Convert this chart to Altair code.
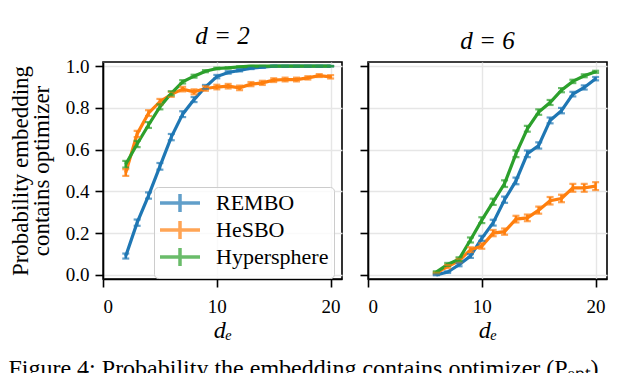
import altair as alt
import pandas as pd

methods = ["REMBO", "HeSBO", "Hypersphere"]
colors = ["#1f77b4", "#ff7f0e", "#2ca02c"]

# d = 2 panel
de_d2 = list(range(2, 21))
rembo_d2 = [0.09, 0.25, 0.38, 0.52, 0.66, 0.77, 0.84, 0.90, 0.95, 0.97, 0.98, 0.99, 0.995, 1.0, 1.0, 1.0, 1.0, 1.0, 1.0]
rembo_d2_err = [0.012, 0.015, 0.015, 0.016, 0.015, 0.014, 0.012, 0.010, 0.008, 0.006, 0.005, 0.004, 0.003, 0.002, 0.001, 0.001, 0.001, 0.001, 0.001]
hesbo_d2 = [0.49, 0.675, 0.775, 0.83, 0.865, 0.89, 0.877, 0.893, 0.90, 0.904, 0.896, 0.914, 0.92, 0.933, 0.936, 0.936, 0.944, 0.955, 0.949]
hesbo_d2_err = [0.016, 0.015, 0.014, 0.013, 0.012, 0.011, 0.012, 0.011, 0.011, 0.011, 0.011, 0.010, 0.010, 0.009, 0.009, 0.009, 0.008, 0.007, 0.008]
hyper_d2 = [0.53, 0.627, 0.718, 0.805, 0.87, 0.925, 0.952, 0.976, 0.989, 0.992, 0.997, 1.0, 1.0, 1.0, 1.0, 1.0, 1.0, 1.0, 1.0]
hyper_d2_err = [0.016, 0.015, 0.014, 0.012, 0.010, 0.008, 0.007, 0.005, 0.004, 0.003, 0.002, 0.001, 0.001, 0.001, 0.001, 0.001, 0.001, 0.001, 0.001]

# d = 6 panel
de_d6 = list(range(6, 21))
rembo_d6 = [0.0, 0.013, 0.048, 0.09, 0.175, 0.25, 0.36, 0.45, 0.58, 0.62, 0.74, 0.787, 0.866, 0.898, 0.94]
rembo_d6_err = [0.002, 0.004, 0.007, 0.009, 0.012, 0.014, 0.015, 0.016, 0.016, 0.015, 0.014, 0.013, 0.011, 0.010, 0.008]
hesbo_d6 = [0.008, 0.04, 0.068, 0.12, 0.138, 0.2, 0.207, 0.267, 0.273, 0.31, 0.355, 0.366, 0.417, 0.417, 0.425]
hesbo_d6_err = [0.004, 0.008, 0.010, 0.012, 0.013, 0.015, 0.015, 0.016, 0.016, 0.017, 0.018, 0.018, 0.019, 0.019, 0.019]
hyper_d6 = [0.013, 0.05, 0.075, 0.167, 0.262, 0.35, 0.437, 0.58, 0.70, 0.78, 0.826, 0.885, 0.927, 0.954, 0.973]
hyper_d6_err = [0.004, 0.007, 0.009, 0.012, 0.014, 0.015, 0.016, 0.016, 0.014, 0.013, 0.012, 0.010, 0.008, 0.007, 0.005]

x_ticks = [0, 10, 20]
y_ticks = [0.0, 0.2, 0.4, 0.6, 0.8, 1.0]

FONT = "Liberation Serif"


def make_df(de, series):
    rows = []
    for name, vals, errs in series:
        for x, v, e in zip(de, vals, errs):
            rows.append({"de": x, "p": v, "lo": v - e, "hi": v + e, "method": name})
    return pd.DataFrame(rows)


df2 = make_df(de_d2, [("REMBO", rembo_d2, rembo_d2_err), ("HeSBO", hesbo_d2, hesbo_d2_err),
                      ("Hypersphere", hyper_d2, hyper_d2_err)])
df6 = make_df(de_d6, [("REMBO", rembo_d6, rembo_d6_err), ("HeSBO", hesbo_d6, hesbo_d6_err),
                      ("Hypersphere", hyper_d6, hyper_d6_err)])


def panel(df, title, first):
    xs = alt.Scale(domain=[0, 21], nice=False, zero=False)
    ys = alt.Scale(domain=[-0.02, 1.02], nice=False, zero=False)
    xax = alt.Axis(values=x_ticks, title="dₑ", format="d", titleFontSize=24, titleFontStyle="italic",
                   titlePadding=2, labelPadding=10)
    if first:
        yax = alt.Axis(values=y_ticks, format=".1f", title=["Probability embedding", "contains optimizer"],
                       titleFontSize=23, titleLineHeight=21, titlePadding=12, labelPadding=6)
        legend = alt.Legend(title=None, orient="none", legendX=51, legendY=125,
                            symbolType="M-4,0L4,0M0,-1.8L0,1.8", symbolSize=100,
                            symbolStrokeWidth=3.5, symbolFillColor="transparent", symbolOffset=10,
                            labelFont=FONT, labelFontSize=22, labelColor="black",
                            fillColor="rgba(255,255,255,0.8)", strokeColor="#cccccc",
                            cornerRadius=4, padding=5, rowPadding=-7, labelOffset=25)
    else:
        yax = alt.Axis(values=y_ticks, labels=False, title=None)
        legend = None
    color = alt.Color("method:N", scale=alt.Scale(domain=methods, range=colors), legend=legend)
    x = alt.X("de:Q", scale=xs, axis=xax)
    y = alt.Y("p:Q", scale=ys, axis=yax)
    base = alt.Chart(df)
    line = base.mark_line(strokeWidth=3.2).encode(x=x, y=y, color=color)
    bars = base.mark_rule(strokeWidth=2.6).encode(x=x, y=alt.Y("lo:Q", scale=ys, axis=yax), y2="hi:Q", color=color)
    cap_lo = base.mark_tick(orient="horizontal", size=7, thickness=2.2).encode(
        x=x, y=alt.Y("lo:Q", scale=ys, axis=yax), color=color)
    cap_hi = base.mark_tick(orient="horizontal", size=7, thickness=2.2).encode(
        x=x, y=alt.Y("hi:Q", scale=ys, axis=yax), color=color)
    return alt.layer(line, bars, cap_lo, cap_hi).properties(
        width=239, height=217,
        title=alt.TitleParams(title, font=FONT, fontSize=25, fontStyle="italic", fontWeight="normal",
                              color="black", offset=8),
    )


left = panel(df2, "d = 2", True)
right = panel(df6, "d = 6", False)

chart = alt.hconcat(left, right, spacing=15).resolve_scale(color="independent").properties(
    padding={"left": 0, "top": 15, "right": 0, "bottom": 0},
    title=alt.TitleParams("Figure 4: Probability the embedding contains optimizer (Pₒₚₜ)",
                          orient="bottom", anchor="start", font=FONT, fontSize=24, fontWeight="normal",
                          color="black", offset=14),
).configure_view(stroke="black", strokeWidth=1.6).configure_axis(
    domainColor="black", domainWidth=1.6, tickColor="black", tickWidth=1.6, tickSize=8,
    gridColor="#e6e6e6", gridWidth=1.4, labelFont=FONT, labelFontSize=19, labelColor="black",
    titleFont=FONT, titleFontWeight="normal", titleColor="black", labelPadding=6,
)

chart.save("out.html", embed_options={"renderer": "svg", "actions": False})
